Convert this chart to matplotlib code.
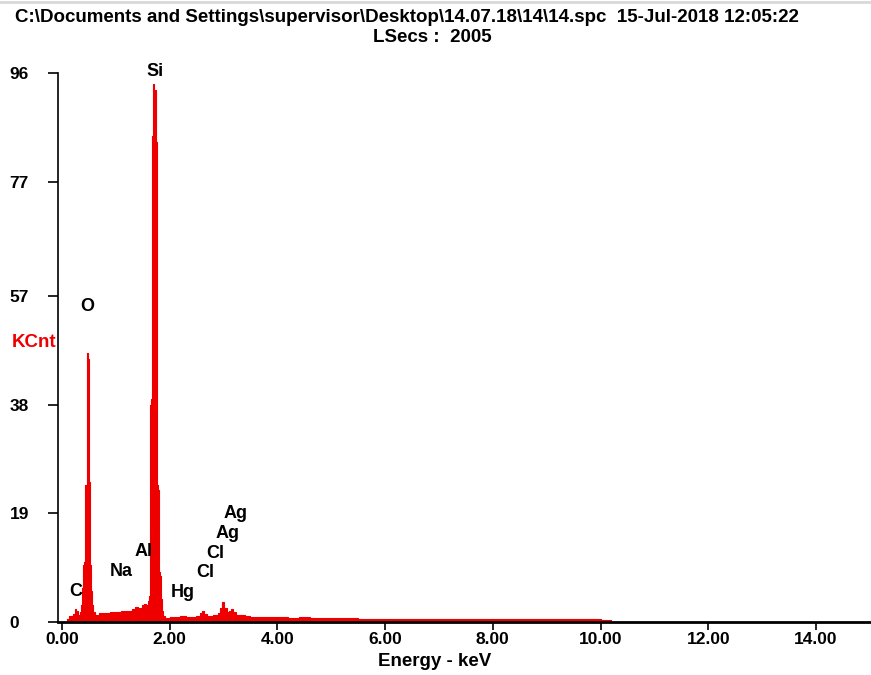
import matplotlib
matplotlib.use('Agg')
import matplotlib.pyplot as plt

# EDS spectrum (step edges in keV, counts in KCnt)
energy_kev = [0.10, 0.14, 0.20, 0.24, 0.26, 0.30, 0.34, 0.36, 0.38, 0.40,
              0.42, 0.44, 0.46, 0.48, 0.50, 0.52, 0.54, 0.56, 0.58, 0.62,
              0.70, 0.80, 0.90, 1.00, 1.10, 1.20, 1.30, 1.36, 1.42, 1.48,
              1.52, 1.56, 1.60, 1.62, 1.64, 1.66, 1.68, 1.70, 1.72, 1.74,
              1.76, 1.78, 1.80, 1.82, 1.84, 1.86, 1.88, 1.92, 2.00, 2.10,
              2.20, 2.30, 2.40, 2.50, 2.56, 2.60, 2.64, 2.70, 2.80, 2.90,
              2.94, 2.98, 3.02, 3.06, 3.10, 3.14, 3.18, 3.24, 3.30, 3.40,
              3.50, 3.60, 3.80, 4.00, 4.20, 4.40, 4.60, 4.80, 5.00, 5.50,
              6.00, 6.50, 7.00, 7.50, 8.00, 8.50, 9.00, 9.50, 9.90, 10.00,
              10.10, 10.20]
counts_kcnt = [0.6, 1.0, 1.4, 2.2, 2.0, 1.2, 1.8, 3.0, 6.0, 10.0,
               10.5, 24.0, 47.0, 46.0, 24.5, 10.0, 5.5, 3.0, 1.8, 1.3,
               1.5, 1.6, 1.7, 1.8, 1.9, 2.0, 2.2, 2.6, 2.4, 2.9,
               3.2, 3.0, 3.6, 4.5, 38.0, 39.0, 85.0, 94.0, 93.0, 84.0,
               24.0, 23.0, 8.7, 8.0, 4.0, 2.0, 1.0, 0.7, 0.8, 0.9,
               1.0, 0.9, 0.9, 1.1, 1.5, 1.9, 1.4, 1.1, 1.2, 1.6,
               2.4, 3.5, 2.4, 1.8, 2.0, 2.2, 1.7, 1.3, 1.2, 1.0,
               0.9, 0.8, 0.85, 0.8, 0.75, 0.8, 0.75, 0.7, 0.65, 0.6,
               0.6, 0.55, 0.55, 0.5, 0.5, 0.5, 0.45, 0.45, 0.5, 0.4,
               0.3, 0.0]

# element labels and where they sit (keV, KCnt)
peak_labels = ['Si', 'O', 'C', 'Na', 'Al', 'Hg', 'Cl', 'Cl', 'Ag', 'Ag']
label_x = [1.73, 0.48, 0.26, 1.10, 1.52, 2.25, 2.66, 2.84, 3.07, 3.23]
label_y = [96.2, 55.2, 5.4, 8.9, 12.4, 5.1, 8.7, 12.0, 15.4, 18.9]

y_ticks = [0, 19, 38, 57, 77, 96]
x_ticks = [0, 2, 4, 6, 8, 10, 12, 14]

RED = '#ee0000'
W, H = 871, 675

plt.rcParams['font.family'] = ['Liberation Sans', 'DejaVu Sans']
plt.rcParams['font.weight'] = 'bold'

fig = plt.figure(figsize=(W / 100, H / 100), dpi=100)
ax = fig.add_axes([58 / W, 1 - 622 / H, (870 - 58) / W, (622 - 73) / H])

ax.fill_between(energy_kev, counts_kcnt, step='post', color=RED, linewidth=0)
ax.step(energy_kev, counts_kcnt, where='post', color=RED, linewidth=0.8)

for lbl, lx, ly in zip(peak_labels, label_x, label_y):
    ax.text(lx, ly, lbl, ha='center', va='center', fontsize=13, fontweight='bold')

ax.set_xlim(-0.07, 15.0)
ax.set_ylim(0, 96)
ax.set_xticks(x_ticks)
ax.set_xticklabels([f'{t:.2f}' for t in x_ticks])
ax.set_yticks(y_ticks)
ax.set_yticklabels([str(t) for t in y_ticks])

for side in ['top', 'right']:
    ax.spines[side].set_visible(False)
ax.spines['bottom'].set_linewidth(2.0)
ax.spines['left'].set_linewidth(1.2)
ax.set_facecolor('white')

ax.tick_params(axis='x', length=6, width=1.2, pad=1, labelsize=12.5)
ax.tick_params(axis='y', length=7, width=1.2, pad=28, labelsize=12.5)
for lbl in ax.get_yticklabels():
    lbl.set_horizontalalignment('left')
    lbl.set_fontweight('bold')
for lbl in ax.get_xticklabels():
    lbl.set_fontweight('bold')

# y label sits left of the axis, in red
ax.text(-0.002, 48.8, 'KCnt', transform=ax.get_yaxis_transform(), ha='right',
        va='center', color=RED, fontsize=13.5, fontweight='bold')

fig.text(435 / W, 1 - 662 / H, 'Energy - keV', ha='center', va='center',
         fontsize=13.5, fontweight='bold')
fig.text(407 / W, 1 - 18 / H,
         r'C:\Documents and Settings\supervisor\Desktop\14.07.18\14\14.spc  15-Jul-2018 12:05:22',
         ha='center', va='center', fontsize=13.5, fontweight='bold')
fig.text(432 / W, 1 - 37 / H, 'LSecs :  2005', ha='center', va='center',
         fontsize=13.5, fontweight='bold')

# light grey frame line at the very top
fig.add_artist(plt.Line2D([0, 1], [1 - 1.5 / H, 1 - 1.5 / H], transform=fig.transFigure,
                          color='#d8d8d8', linewidth=2))

fig.savefig('out.png', dpi=100)
